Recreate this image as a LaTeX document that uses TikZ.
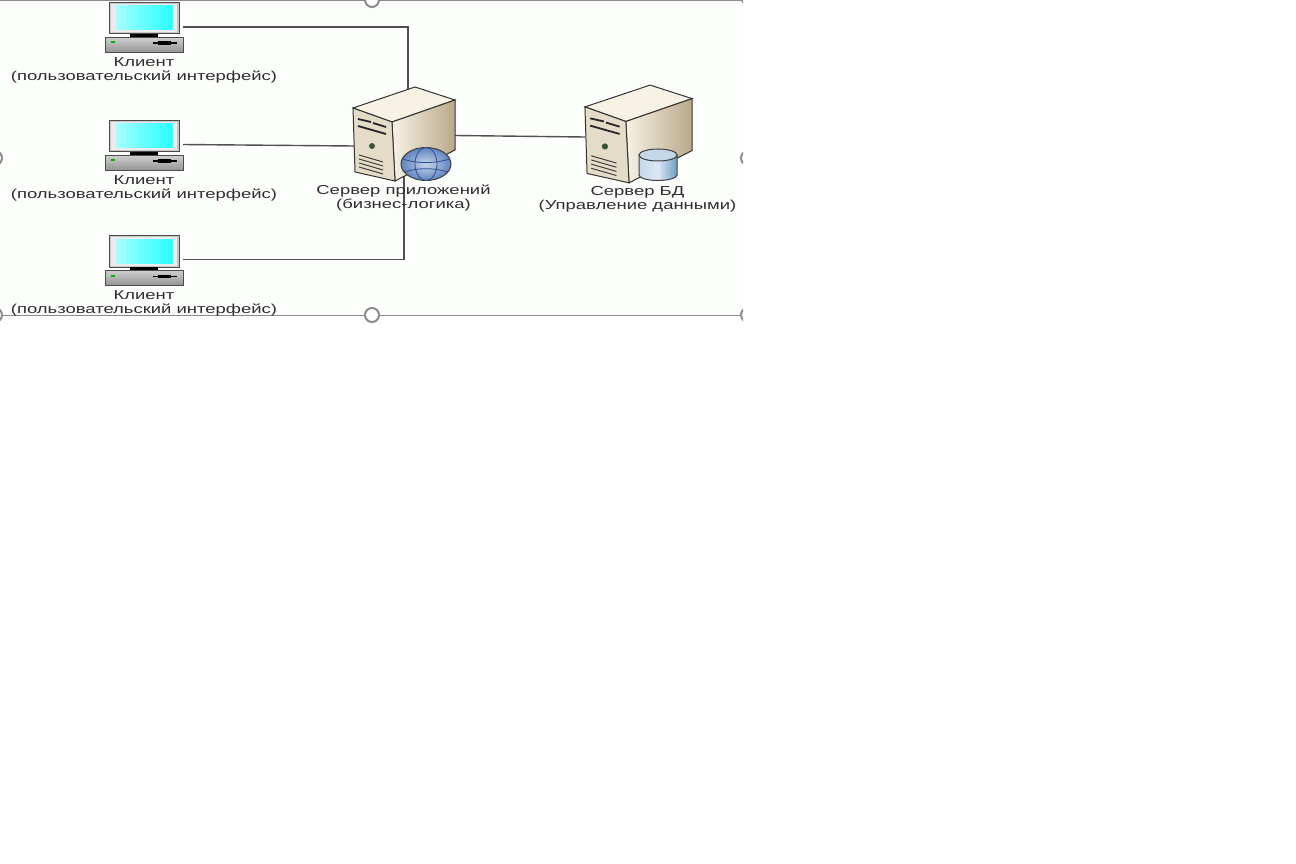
\documentclass[tikz,border=0pt]{standalone}
\usepackage{fontspec}
\usetikzlibrary{shapes.geometric}
\setmainfont[FakeStretch=1.42]{Liberation Sans}
\definecolor{panelbg}{HTML}{FCFEFB}
\definecolor{wirecol}{HTML}{505050}
\definecolor{handlecol}{HTML}{8C8C8C}
\definecolor{labelcol}{HTML}{2E2E2E}
\definecolor{tanlight}{HTML}{F7F2E4}
\definecolor{tandark}{HTML}{B9A98A}
\definecolor{tanfront}{HTML}{E4DCC6}
\definecolor{boxgray}{HTML}{B9B9B9}
\definecolor{globeblue}{HTML}{5F84C0}
\definecolor{globeline}{HTML}{2F4F8F}
\definecolor{cylblue}{HTML}{6F9CC4}
\definecolor{cyltop}{HTML}{C4D8EA}
\tikzset{
  wire/.style={draw=wirecol, line width=1.4pt},
  hotspot/.style={inner sep=0pt, minimum width=#1},
  lbl/.style={align=center, text=labelcol, font=\fontsize{13}{14}\selectfont, inner sep=0pt},
  handle/.style={draw=handlecol, fill=white, line width=2pt},
  clientpc/.pic={
    % monitor
    \draw[black!70, line width=1pt, fill=boxgray!80] (-35,-24.5) rectangle (35,7);
    \fill[white!85!gray] (-33,-23) rectangle (33,5.5);
    \shade[left color=cyan!35!white, right color=cyan!85!white, middle color=cyan!60!white] (-28,-21) rectangle (29,3);
    \fill[black] (-14,7) rectangle (14,10);
    % base
    \draw[black!70, line width=1pt, top color=boxgray!70, bottom color=gray!85] (-39,10.5) rectangle (39,25.5);
    \fill[green!70!black] (-33,14.5) rectangle (-29,16.5);
    \fill[black] (9,15.5) rectangle (33,17);
    \fill[black] (14,14.5) rectangle (27,18);
  },
  serverbox/.pic={
    % top, side, front
    \draw[black!80, line width=1pt, fill=tanlight] (11,-48) -- (51,-35) -- (-12,-13) -- (-51,-27) -- cycle;
    \draw[black!80, line width=1pt, left color=tanlight, right color=tandark] (-12,-13) -- (51,-35) -- (51,15) -- (-9,46) -- cycle;
    \draw[black!80, line width=1pt, fill=tanfront] (-51,-27) -- (-12,-13) -- (-9,46) -- (-49,37) -- cycle;
    % drive bays
    \draw[black!85, line width=1.8pt] (-46,-16) -- (-33,-13) (-31,-12) -- (-18,-8);
    \draw[black!85, line width=1.8pt] (-46,-9) -- (-18,-1);
    % power led
    \fill[black!70] (-32,11) circle (3);
    \fill[green!45!black] (-32,11) circle (1.6);
    % vents
    \foreach \ventpos in {22,26,30,34}
      \draw[black!75, line width=1pt] (-45,\ventpos-2) -- (-21,\ventpos+5);
  },
}
\begin{document}
\begin{tikzpicture}[x=1pt, y=-1pt]
\useasboundingbox (0,0) rectangle (1296,864);
\begin{scope}
\clip (0,0) rectangle (743,323);
\fill[panelbg] (0,0) rectangle (743,315);
% frame
\draw[handlecol, line width=1pt] (0,0.5) -- (743,0.5);
\draw[handlecol, line width=1pt] (0,315.5) -- (743,315.5);
% hotspots for the connectors
\node[hotspot=78, minimum height=50] (client1) at (144,27) {};
\node[hotspot=78, minimum height=50] (client2) at (144,144.5) {};
\node[hotspot=78, minimum height=50] (client3) at (144,259.5) {};
\node[hotspot=102, minimum height=90] (apps) at (404,135.5) {};
\node[hotspot=107, minimum height=90] (dbs) at (638.5,137) {};
\coordinate (apptop) at (408,92);
\coordinate (appbot) at (404,175);
\coordinate (appin) at (354,146);
% connectors
\draw[wire] (client1.east) -| (apptop);
\draw[wire] (client2.east) -- (appin);
\draw[wire] (client3.east) -| (appbot);
\draw[wire] (apps.east) -- (dbs.west);
% icons
\pic at (144,27) {clientpc};
\pic at (144,145) {clientpc};
\pic at (144,260) {clientpc};
\pic at (404,135) {serverbox};
\pic[xscale=1.05, yscale=1.04] at (638.5,135) {serverbox};
% globe
\node[ellipse, draw=black!75, line width=1pt, inner color=globeblue!35!white, outer color=globeblue, minimum width=50, minimum height=33, inner sep=0pt] (globe) at (426,164) {};
\draw[globeline, line width=.8pt] (426,164) ellipse[x radius=11, y radius=16.5];
\draw[globeline, line width=.8pt] (402,159) to[bend right=15] (450,159);
\draw[globeline, line width=.8pt] (404,172) to[bend left=15] (448,172);
% cylinder
\draw[black!75, line width=1pt, left color=cyltop, right color=cylblue, middle color=cyltop!60!white] (639,155) -- (639,175) arc[x radius=19, y radius=5.5, start angle=180, end angle=0] -- (677,155) -- cycle;
\draw[black!75, line width=1pt, fill=cyltop] (658,155) ellipse[x radius=19, y radius=6];
% labels
\node[lbl] (lblclient1) at (144,70) {Клиент\\(пользовательский интерфейс)};
\node[lbl] (lblclient2) at (144,188) {Клиент\\(пользовательский интерфейс)};
\node[lbl] (lblclient3) at (144,303) {Клиент\\(пользовательский интерфейс)};
\node[lbl] (lblapps) at (403.5,198.5) {Сервер приложений\\(бизнес-логика)};
\node[lbl] (lbldbs) at (637.5,199) {Сервер БД\\(Управление данными)};
% handles
\foreach \hx/\hy in {372/0, -5/158, 748/158, -5/315, 372/315, 748/315, 748/-3}
  \draw[handle] (\hx,\hy) circle (7);
\end{scope}
\end{tikzpicture}
\end{document}
